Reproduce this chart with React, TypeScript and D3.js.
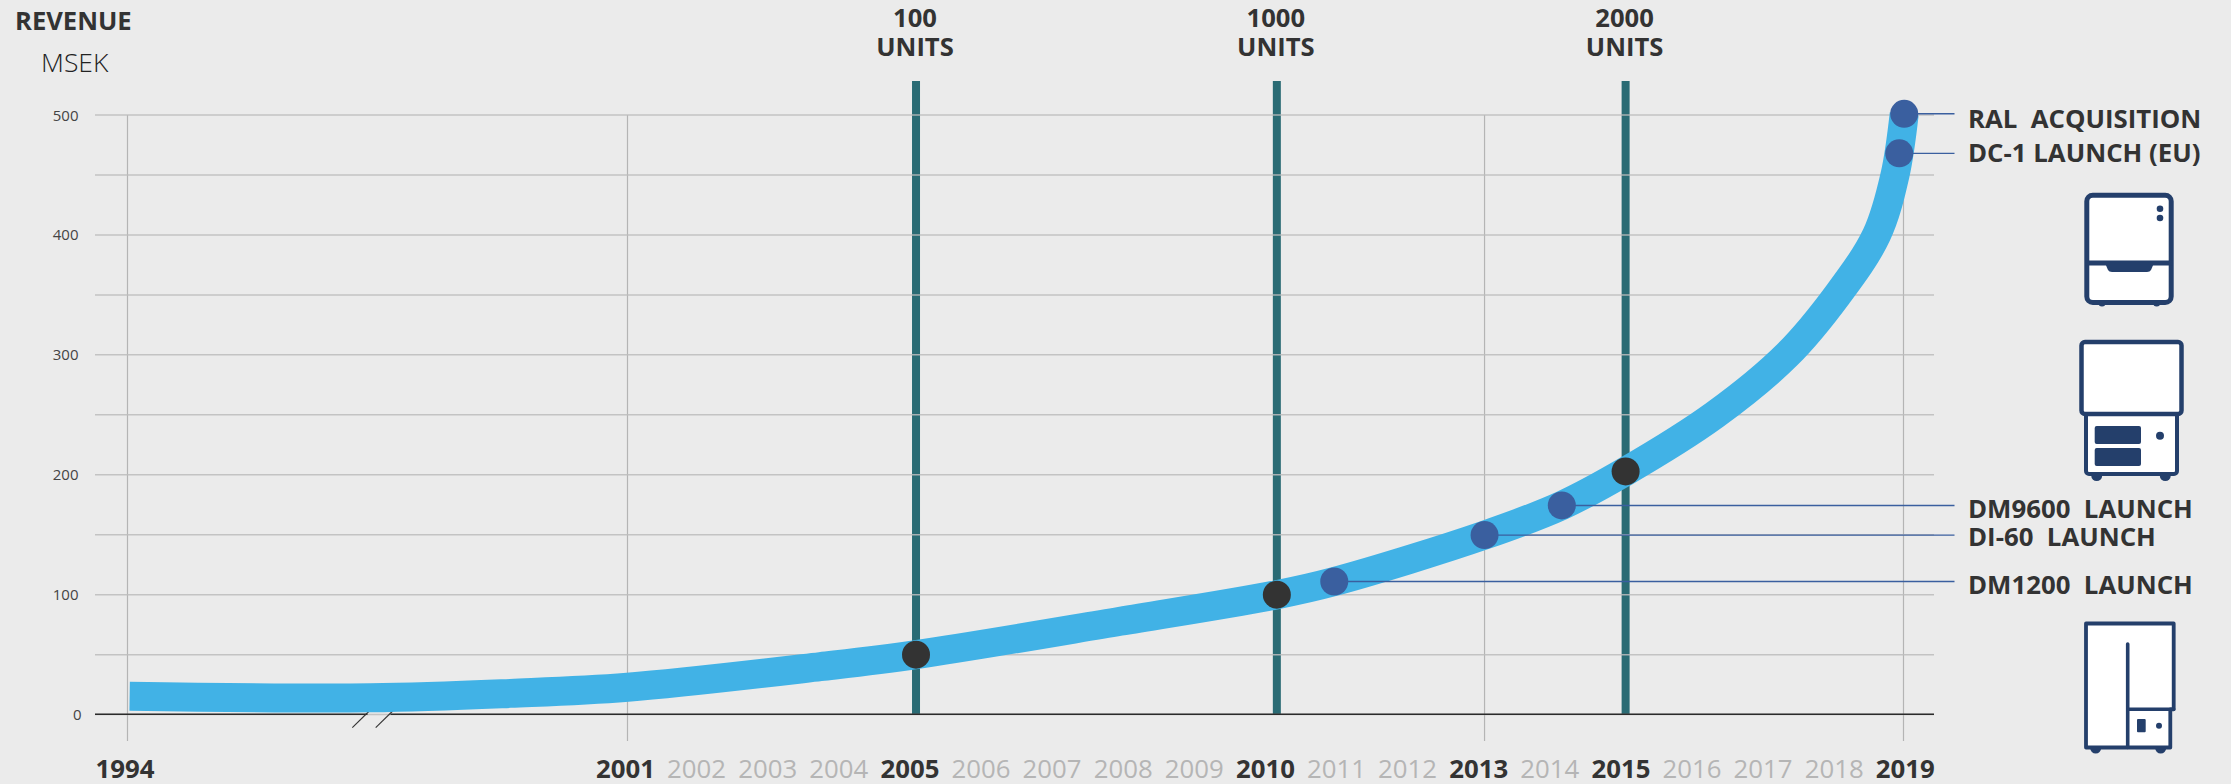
import React, { useEffect, useRef } from 'react';
import * as d3 from 'd3';

// revenue curve
const curveYears = [1994.03, 1997.4, 1999.36, 2001, 2003.72, 2005.07, 2007.95, 2010.16, 2010.97, 2013.09, 2014.18, 2015.08, 2016.34, 2017.36, 2018.07, 2018.62, 2018.88, 2019.01];
const curveValues = [15.3, 14, 17.7, 22.8, 40, 50, 77.8, 100, 111, 149.7, 174.4, 202.8, 250, 300, 350, 400, 450, 501];

const yTicks = [0, 100, 200, 300, 400, 500];
const yGrid = [0, 50, 100, 150, 200, 250, 300, 350, 400, 450, 500];

const boldYears = [1994, 2001, 2005, 2010, 2013, 2015, 2019];
const greyYears = [2002, 2003, 2004, 2006, 2007, 2008, 2009, 2011, 2012, 2014, 2016, 2017, 2018];
const gridYears = [1994, 2001, 2013.09, 2019];

const unitYears = [2005.07, 2010.16, 2015.08];
const unitValues = [50, 100, 202.8];
const unitLabels = ['100', '1000', '2000'];

const launchNames = ['RAL  ACQUISITION', 'DC-1 LAUNCH (EU)', 'DM9600  LAUNCH', 'DI-60  LAUNCH', 'DM1200  LAUNCH'];
const launchYears = [2019.01, 2018.94, 2014.18, 2013.09, 2010.97];
const launchValues = [501, 468, 174.4, 149.7, 111];
const launchTextY = [127.5, 161.5, 518, 546, 594];

const NAVY = '#243f6b';
const DARK = '#333333';
const FONT = '"Open Sans", sans-serif';

// the axis is cut between 1994 and 2001, hence the three stops
const x = d3.scaleLinear().domain([1994, 2001, 2019]).range([127.5, 627.5, 1903.5]);
const xLabel = d3.scaleLinear().domain([1994, 2001, 2019]).range([125, 625.5, 1905.3]);
const y = d3.scaleLinear().domain([0, 500]).range([714.6, 115]);

const App = () => {
  const chartRef = useRef<SVGGElement>(null);

  useEffect(() => {
    const svg = d3.select(chartRef.current);
    svg.selectAll('*').remove();

    // vertical grid
    svg.append('g').selectAll('line').data(gridYears).join('line')
      .attr('x1', (d) => x(d)).attr('x2', (d) => x(d))
      .attr('y1', y(500)).attr('y2', 741)
      .attr('stroke', '#b4b4b4').attr('stroke-width', 1.2);

    // units milestones
    svg.append('g').selectAll('line').data(unitYears).join('line')
      .attr('x1', (d) => x(d)).attr('x2', (d) => x(d))
      .attr('y1', 81).attr('y2', y(0))
      .attr('stroke', '#2a6b74').attr('stroke-width', 8);

    // horizontal grid sits on top of the teal bars
    svg.append('g').selectAll('line').data(yGrid).join('line')
      .attr('x1', 95).attr('x2', 1934)
      .attr('y1', (d) => y(d)).attr('y2', (d) => y(d))
      .attr('stroke', '#bdbdbd').attr('stroke-width', 1.5).attr('opacity', 0.85);

    // zero line with axis break
    const axisY = y(0) - 0.4;
    [[95, 367.5], [390.5, 1934]].forEach(([a, b]) => {
      svg.append('line').attr('x1', a).attr('x2', b).attr('y1', axisY).attr('y2', axisY)
        .attr('stroke', '#2b2b2b').attr('stroke-width', 1.4);
    });
    [352.3, 375.7].forEach((sx) => {
      svg.append('line').attr('x1', sx).attr('x2', sx + 17).attr('y1', 727.7).attr('y2', 711)
        .attr('stroke', '#333').attr('stroke-width', 1.1);
    });

    // y tick labels
    svg.append('g').selectAll('text').data(yTicks).join('text')
      .attr('x', (d) => (d === 0 ? 81.5 : 78.5))
      .attr('y', (d) => y(d) + 5.5)
      .attr('text-anchor', 'end').attr('font-size', 15).attr('fill', '#444')
      .text((d) => d);

    // curve
    const line = d3.line<number>()
      .x((d) => x(d))
      .y((_, i) => y(curveValues[i]))
      .curve(d3.curveCatmullRom.alpha(0.5));
    svg.append('path').attr('d', line(curveYears))
      .attr('fill', 'none').attr('stroke', '#41b2e6').attr('stroke-width', 29);

    // launch leader lines and dots
    launchYears.forEach((yr, i) => {
      svg.append('line').attr('x1', x(yr)).attr('x2', 1954.5)
        .attr('y1', y(launchValues[i])).attr('y2', y(launchValues[i]))
        .attr('stroke', '#3a5f9f').attr('stroke-width', 1.4);
      svg.append('circle').attr('cx', x(yr)).attr('cy', y(launchValues[i])).attr('r', 14).attr('fill', '#3a5f9f');
      svg.append('text').attr('x', 1968).attr('y', launchTextY[i])
        .attr('font-size', 25.8).attr('font-weight', 700).attr('fill', DARK)
        .style('white-space', 'pre').text(launchNames[i]);
    });

    // units dots and labels
    unitYears.forEach((yr, i) => {
      svg.append('circle').attr('cx', x(yr)).attr('cy', y(unitValues[i])).attr('r', 14).attr('fill', DARK);
      const label = svg.append('text').attr('text-anchor', 'middle').attr('font-size', 25.6)
        .attr('font-weight', 700).attr('fill', DARK);
      label.append('tspan').attr('x', x(yr) - 1).attr('y', 27).text(unitLabels[i]);
      label.append('tspan').attr('x', x(yr) - 1).attr('y', 56).text('UNITS');
    });

    // year labels
    svg.append('g').selectAll('text').data(greyYears).join('text')
      .attr('x', (d) => xLabel(d)).attr('y', 777.7).attr('text-anchor', 'middle')
      .attr('font-size', 25.8).attr('fill', '#b5b5b5').text((d) => d);
    svg.append('g').selectAll('text').data(boldYears).join('text')
      .attr('x', (d) => xLabel(d)).attr('y', 777.7).attr('text-anchor', 'middle')
      .attr('font-size', 25.8).attr('font-weight', 700).attr('fill', DARK).text((d) => d);

    // titles
    svg.append('text').attr('x', 15).attr('y', 30).attr('font-size', 25.6).attr('font-weight', 700)
      .attr('fill', DARK).text('REVENUE');
    svg.append('text').attr('x', 41).attr('y', 71.7).attr('font-size', 26.5).attr('font-weight', 300)
      .attr('fill', '#222').text('MSEK');
  }, []);

  return (
    <svg width={2231} height={784} style={{ position: 'fixed', left: 0, top: 0, fontFamily: FONT }}>
      <rect width={2231} height={784} fill="#ebebeb" />
      <g ref={chartRef} />

      {/* product pictograms on the right */}
      <g stroke={NAVY} strokeWidth={5} fill="#fff" strokeLinejoin="round">
        {/* DC-1 */}
        <circle cx={2102} cy={303} r={3.5} fill={NAVY} stroke="none" />
        <circle cx={2156.7} cy={303} r={3.5} fill={NAVY} stroke="none" />
        <rect x={2086.8} y={195.2} width={84.4} height={107.4} rx={6} />
        <line x1={2085} x2={2173} y1={263} y2={263} />
        <path d="M2105 263 L2154 263 L2151 270 Q2150 272 2147 272 L2112 272 Q2109 272 2108 270 Z" fill={NAVY} stroke="none" />
        <circle cx={2160} cy={208.7} r={3.3} fill={NAVY} stroke="none" />
        <circle cx={2160} cy={218} r={3.3} fill={NAVY} stroke="none" />

        {/* DM9600 */}
        <circle cx={2096.7} cy={475.5} r={5.5} fill={NAVY} stroke="none" />
        <circle cx={2165.3} cy={475.5} r={5.5} fill={NAVY} stroke="none" />
        <rect x={2086} y={410} width={91} height={64} rx={3} strokeWidth={4} />
        <rect x={2081.5} y={342} width={100} height={72} rx={3.5} strokeWidth={4.5} />
        <rect x={2094.7} y={426} width={46.3} height={18} rx={2} fill={NAVY} stroke="none" />
        <rect x={2094.7} y={448} width={46.3} height={18} rx={2} fill={NAVY} stroke="none" />
        <circle cx={2160} cy={435.7} r={4} fill={NAVY} stroke="none" />

        {/* DM1200 */}
        <circle cx={2095.7} cy={748} r={5.5} fill={NAVY} stroke="none" />
        <circle cx={2160.7} cy={748} r={5.5} fill={NAVY} stroke="none" />
        <path d="M2086 623.5 L2173.7 623.5 L2173.7 709.3 L2170.3 709.3 L2170.3 747.5 L2086 747.5 Z" strokeWidth={3.8} />
        <path d="M2127.7 644 L2127.7 747.5 M2127.7 709.3 L2173.7 709.3" strokeWidth={3.6} fill="none" strokeLinecap="round" />
        <rect x={2137} y={719} width={8.7} height={13.3} rx={1} fill={NAVY} stroke="none" />
        <circle cx={2159} cy={725.7} r={3} fill={NAVY} stroke="none" />
      </g>
    </svg>
  );
};

export default App;
